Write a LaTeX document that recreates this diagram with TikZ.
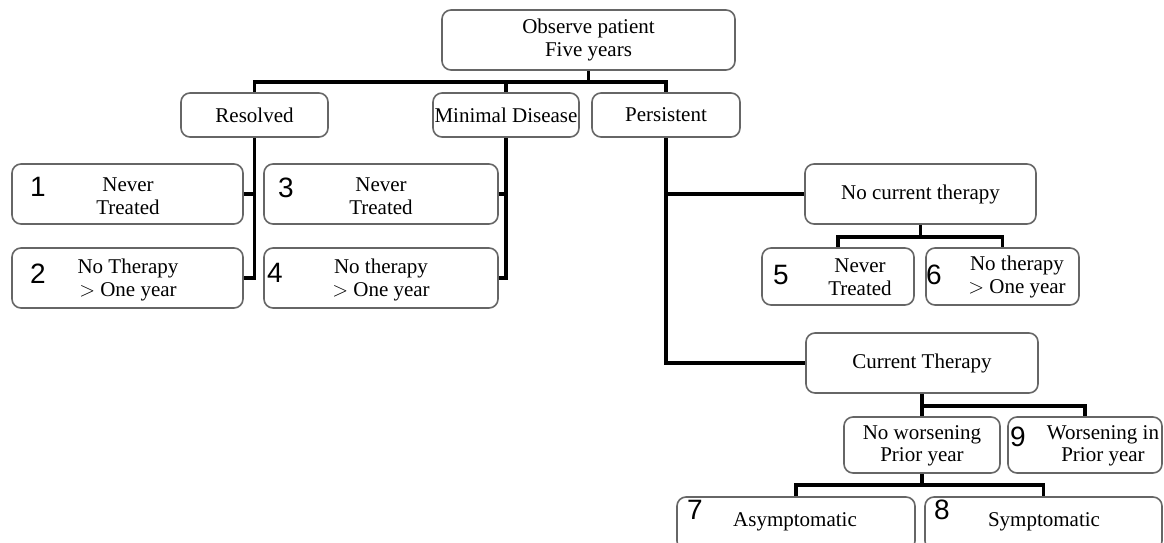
\documentclass[tikz,border=0pt]{standalone}
\usepackage{fontspec}
\usepackage{tikz}
\setmainfont{Liberation Serif}
\newfontfamily\numfont{Liberation Sans}

\begin{document}
\begin{tikzpicture}[x=1pt,y=-1pt,
    box/.style={draw=black!60, line width=1.6pt, rounded corners=9pt, fill=white},
    txt/.style={align=center, inner sep=0pt, font=\fontsize{21}{22.5}\selectfont},
    num/.style={inner sep=0pt, font=\numfont\fontsize{28}{30}\selectfont},
    link/.style={line width=3.4pt, black}]
    \useasboundingbox (0,0) rectangle (1164,543);
    \node[box, minimum width=293pt, minimum height=60pt] (root) at (588.5,40) {};
    \node[box, minimum width=147pt, minimum height=44pt] (res) at (254.5,115) {};
    \node[box, minimum width=146pt, minimum height=44pt] (mdis) at (506,115) {};
    \node[box, minimum width=148pt, minimum height=44pt] (pers) at (666,115) {};
    \node[box, minimum width=231pt, minimum height=60pt] (b1) at (127.5,194) {};
    \node[box, minimum width=231pt, minimum height=60pt] (b2) at (127.5,278) {};
    \node[box, minimum width=234pt, minimum height=60pt] (b3) at (381,194) {};
    \node[box, minimum width=234pt, minimum height=60pt] (b4) at (381,278) {};
    \node[box, minimum width=231pt, minimum height=60pt] (nct) at (920.5,194) {};
    \node[box, minimum width=152pt, minimum height=57pt] (b5) at (838,276.5) {};
    \node[box, minimum width=153pt, minimum height=57pt] (b6) at (1002.5,276.5) {};
    \node[box, minimum width=232pt, minimum height=60pt] (ct) at (922,363) {};
    \node[box, minimum width=156pt, minimum height=56pt] (nw) at (922,445) {};
    \node[box, minimum width=154pt, minimum height=56pt] (b9) at (1085,445) {};
    \node[box, minimum width=238pt, minimum height=53pt] (b7) at (796,523.5) {};
    \node[box, minimum width=237pt, minimum height=53pt] (b8) at (1043.5,523.5) {};

    \node[txt] (troot) at (root) {Observe patient\\Five years};
    \node[txt] (tres) at (res) {Resolved};
    \node[txt] (tmdis) at (mdis) {Minimal Disease};
    \node[txt] (tpers) at (pers) {Persistent};
    \node[txt] (t1) at (128,196) {Never\\Treated};
    \node[txt] (t2) at (128,280) {No Therapy\\$>$ One year};
    \node[txt] (t3) at (381,196) {Never\\Treated};
    \node[txt] (t4) at (381,280) {No therapy\\$>$ One year};
    \node[txt] (tnct) at (nct) {No current therapy};
    \node[txt] (t5) at (860,277) {Never\\Treated};
    \node[txt] (t6) at (1017,277) {No therapy\\$>$ One year};
    \node[txt] (tct) at (ct) {Current Therapy};
    \node[txt] (tnw) at (922,446) {No worsening\\Prior year};
    \node[txt] (t9) at (1103,446) {Worsening in\\Prior year};
    \node[txt] (t7) at (795,522) {Asymptomatic};
    \node[txt] (t8) at (1044,522) {Symptomatic};

    \node[num] (n1) at (38,187) {1};
    \node[num] (n2) at (38,274) {2};
    \node[num] (n3) at (286,188) {3};
    \node[num] (n4) at (275,273) {4};
    \node[num] (n5) at (781,275) {5};
    \node[num] (n6) at (934,275) {6};
    \node[num] (n9) at (1018,437) {9};
    \node[num] (n7) at (695,510) {7};
    \node[num] (n8) at (942,510) {8};

    \coordinate (bus1) at (588.5,82);
    \draw[link] (root.south) -- (bus1);
    \draw[link] (bus1) -| (res.north);
    \draw[link] (bus1) -| (pers.north);
    \draw[link] (mdis.north) -- (mdis.north |- bus1);
    \draw[link] (res.south) |- (b2.east);
    \draw[link] (b1.east) -- (b1.east -| res.south);
    \draw[link] (mdis.south) |- (b4.east);
    \draw[link] (b3.east) -- (b3.east -| mdis.south);
    \draw[link] (pers.south) |- (ct.west);
    \draw[link] (nct.west) -- (nct.west -| pers.south);
    \coordinate (bus2) at (920.5,237);
    \draw[link] (nct.south) -- (bus2);
    \draw[link] (bus2) -| (b5.north);
    \draw[link] (bus2) -| (b6.north);
    \coordinate (bus3) at (922,406);
    \draw[link] (ct.south) -- (nw.north);
    \draw[link] (bus3) -| (b9.north);
    \coordinate (bus4) at (922,485);
    \draw[link] (nw.south) -- (bus4);
    \draw[link] (bus4) -| (b7.north);
    \draw[link] (bus4) -| (b8.north);
\end{tikzpicture}
\end{document}
